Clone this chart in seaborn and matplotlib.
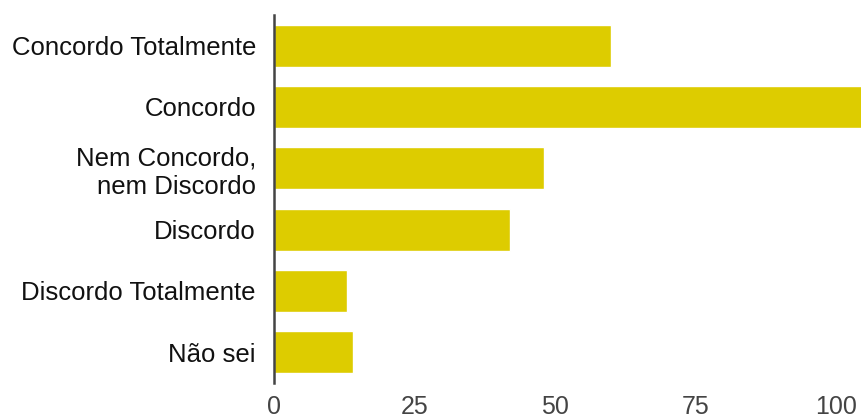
import matplotlib
matplotlib.use('Agg')
import matplotlib.pyplot as plt
import seaborn as sns
import pandas as pd

# answers and counts
categories = ['Concordo Totalmente', 'Concordo', 'Nem Concordo,\nnem Discordo',
              'Discordo', 'Discordo Totalmente', 'Não sei']
counts = [60, 112, 48, 42, 13, 14]
x_ticks = [0, 25, 50, 75, 100]

sns.set_style('white')
plt.rcParams['font.family'] = ['Liberation Sans', 'DejaVu Sans']

df = pd.DataFrame({'resposta': categories, 'n': counts})

fig = plt.figure(figsize=(8.61, 4.18), dpi=100)
# axes placed so that 0 sits at x=274px and the right edge is the figure edge
ax = fig.add_axes([274 / 861, 35 / 418, 587 / 861, 368 / 418])

sns.barplot(data=df, y='resposta', x='n', color='#DDCC00', saturation=1,
            width=0.68, ax=ax)

ax.set_xlim(0, 587 / 5.62)
ax.set_xticks(x_ticks)
ax.set_xlabel('')
ax.set_ylabel('')
for s in ['top', 'right', 'bottom']:
    ax.spines[s].set_visible(False)
ax.spines['left'].set_color('#444444')
ax.spines['left'].set_linewidth(1.8)
ax.tick_params(axis='both', length=0)
ax.tick_params(axis='x', labelsize=18, labelcolor='#444444', pad=9)
ax.tick_params(axis='y', labelsize=18.5, labelcolor='#111111', pad=13)
for lab in ax.get_yticklabels():
    lab.set_multialignment('right')

fig.savefig('out.png', dpi=100)
